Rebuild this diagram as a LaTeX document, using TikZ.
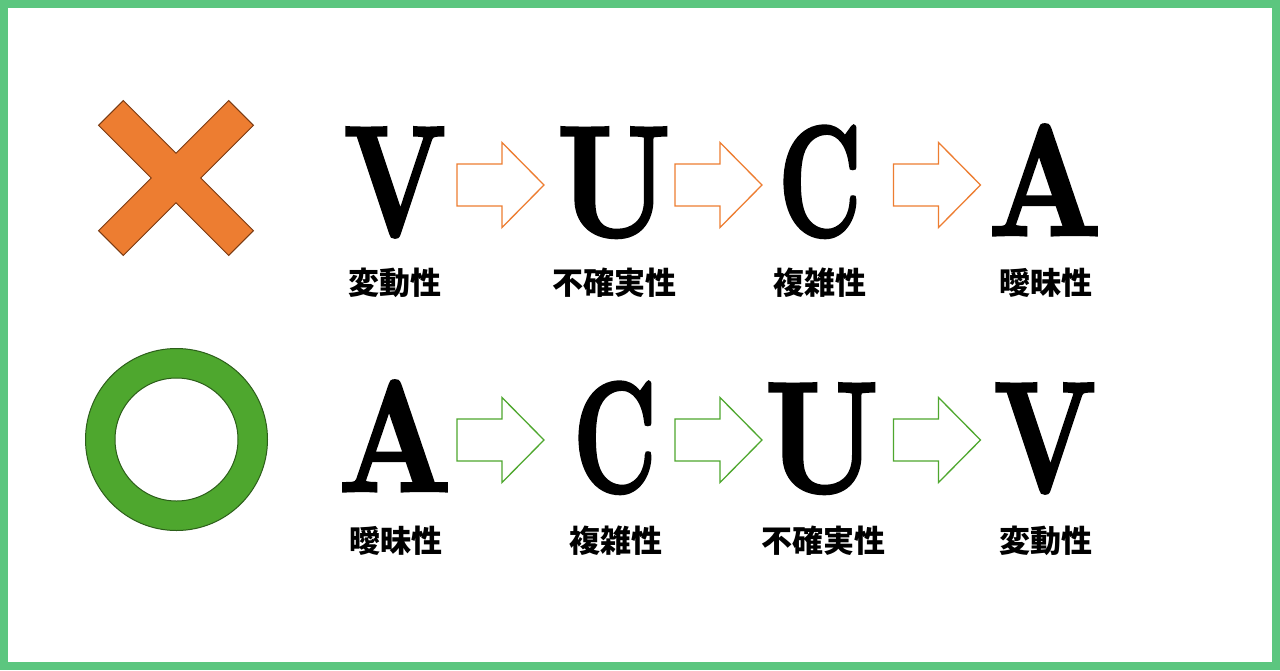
\documentclass[tikz,border=0pt]{standalone}
\usepackage{fontspec}
\newfontfamily\jp{Noto Sans CJK JP}
\newfontfamily\bigbold{lmroman10-bold}[Extension=.otf, FakeBold=2]
\definecolor{frame}{HTML}{5CC67F}
\definecolor{xorange}{HTML}{ED7D31}
\definecolor{xbrown}{HTML}{7A3A12}
\definecolor{ogreen}{HTML}{4EA72E}
\definecolor{ogreendark}{HTML}{2C5E1A}
\tikzset{
  letter/.style={anchor=base, inner sep=0pt, font=\bigbold\fontsize{158}{158}\selectfont},
  label/.style={inner sep=0pt, font=\jp\bfseries\fontsize{31}{31}\selectfont},
  blkarrow/.pic={
    \draw[line width=1.3pt, fill=white, #1, line join=miter]
      (-43.5,-21) -- (1.5,-21) -- (1.5,-42.5) -- (43.5,0) -- (1.5,42.5) -- (1.5,21) -- (-43.5,21) -- cycle;
  },
}
\newcommand{\narrow}[2]{\scalebox{#1}[1]{#2}}
\begin{document}
\begin{tikzpicture}[x=1pt,y=-1pt]
\useasboundingbox (0,0) rectangle (1280,670);
% frame
\fill[frame] (0,0) rectangle (1280,670);
\fill[white] (8,8) rectangle (1272,662);
% cross
\begin{scope}[shift={(176,178)}, rotate=45]
  \draw[fill=xorange, draw=xbrown, line width=1pt, line join=miter]
    (17.5,17.5) -- (92,17.5) -- (92,-17.5) -- (17.5,-17.5) -- (17.5,-92) -- (-17.5,-92)
    -- (-17.5,-17.5) -- (-92,-17.5) -- (-92,17.5) -- (-17.5,17.5) -- (-17.5,92) -- (17.5,92) -- cycle;
\end{scope}
% circle
\draw[fill=ogreen, draw=ogreendark, line width=1pt, even odd rule]
  (176.5,439.5) circle (91) (176.5,439.5) circle (61.5);
% top row
\node[letter] (tV) at (395,236) {\narrow{0.75}{V}};
\node[letter] (tU) at (614,236) {\narrow{0.82}{U}};
\node[letter] (tC) at (820,236) {\narrow{0.64}{C}};
\node[letter] (tA) at (1045,235) {\narrow{0.83}{A}};
\node[label] (lV) at (395,283) {変動性};
\node[label] (lU) at (614,283) {不確実性};
\node[label] (lC) at (820,283) {複雑性};
\node[label] (lA) at (1046,283) {曖昧性};
\pic at (500.5,185) {blkarrow={draw=xorange}};
\pic at (718.5,185) {blkarrow={draw=xorange}};
\pic at (937,185) {blkarrow={draw=xorange}};
% bottom row
\node[letter] (bA) at (395,491) {\narrow{0.83}{A}};
\node[letter] (bC) at (615,492) {\narrow{0.64}{C}};
\node[letter] (bU) at (822,492) {\narrow{0.82}{U}};
\node[letter] (bV) at (1045,492) {\narrow{0.75}{V}};
\node[label] (mA) at (396,541) {曖昧性};
\node[label] (mC) at (616,541) {複雑性};
\node[label] (mU) at (823,541) {不確実性};
\node[label] (mV) at (1046,541) {変動性};
\pic at (500.5,440) {blkarrow={draw=ogreen}};
\pic at (718.5,440) {blkarrow={draw=ogreen}};
\pic at (937,440) {blkarrow={draw=ogreen}};
\end{tikzpicture}
\end{document}
